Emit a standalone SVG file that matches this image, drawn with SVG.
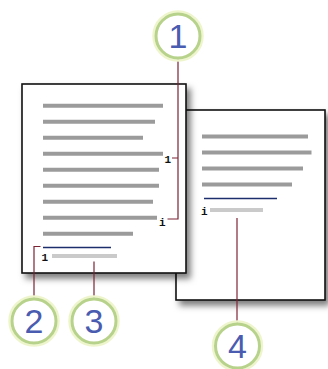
<svg xmlns="http://www.w3.org/2000/svg" width="328" height="369" viewBox="0 0 328 369">
<defs>
<filter id="sh" x="-10%" y="-10%" width="130%" height="130%">
<feDropShadow dx="4" dy="5" stdDeviation="3" flood-color="#000" flood-opacity="0.5"/>
</filter>
<style>
.page{fill:#fff;stroke:#111;stroke-width:1.6}
.bar{stroke:#9b9b9b;stroke-width:4}
.lbar{stroke:#cacaca;stroke-width:4}
.blue{stroke:#1c2f6c;stroke-width:1.3}
.mark{font-family:"Liberation Mono",monospace;font-weight:bold;font-size:11px;fill:#111}
.conn{fill:none;stroke:#7c2434;stroke-width:1.2}
.glow{fill:none;stroke:#eef5cc;stroke-width:2.5}
.ring{fill:#fff;stroke:#b7d28b;stroke-width:3}
.num{font-family:"Liberation Sans",Arial,sans-serif;font-size:34px;fill:#4a5cb0;text-anchor:middle}
</style>
</defs>
<g id="page2">
<rect class="page" x="176" y="110" width="149" height="190" filter="url(#sh)"/>
<line class="bar" x1="202" y1="136.5" x2="308" y2="136.5"/>
<line class="bar" x1="202" y1="152.5" x2="311.5" y2="152.5"/>
<line class="bar" x1="202" y1="168.5" x2="303" y2="168.5"/>
<line class="bar" x1="202" y1="184.5" x2="292" y2="184.5"/>
<line class="blue" x1="204" y1="198.5" x2="277" y2="198.5"/>
<text class="mark" x="201" y="215">i</text>
<line class="lbar" x1="210" y1="210" x2="263" y2="210"/>
</g>
<g id="page1">
<rect class="page" x="22" y="84" width="164" height="189" filter="url(#sh)"/>
<line class="bar" x1="43" y1="105.7" x2="163" y2="105.7"/>
<line class="bar" x1="43" y1="121.7" x2="155" y2="121.7"/>
<line class="bar" x1="43" y1="137.7" x2="143" y2="137.7"/>
<line class="bar" x1="43" y1="153.7" x2="163" y2="153.7"/>
<line class="bar" x1="43" y1="169.7" x2="159" y2="169.7"/>
<line class="bar" x1="43" y1="185.7" x2="159" y2="185.7"/>
<line class="bar" x1="43" y1="201.7" x2="153" y2="201.7"/>
<line class="bar" x1="43" y1="217.7" x2="157" y2="217.7"/>
<line class="bar" x1="43" y1="233.7" x2="133" y2="233.7"/>
<text class="mark" x="164.5" y="162.5">1</text>
<text class="mark" x="159" y="225.5">i</text>
<line class="blue" x1="43" y1="247.5" x2="111" y2="247.5"/>
<text class="mark" x="41.5" y="261">1</text>
<line class="lbar" x1="52" y1="256" x2="117" y2="256"/>
</g>
<g id="connectors">
<path class="conn" d="M178,59.5 V219 H167.5 M178,158 H172"/>
<path class="conn" d="M40.5,246.5 H34 V297.5"/>
<path class="conn" d="M94,261.5 V297.5"/>
<path class="conn" d="M237,218 V322.5"/>
</g>
<g id="callout1">
<circle class="glow" cx="178" cy="36" r="24.5"/>
<circle class="ring" cx="178" cy="36" r="22"/>
<text class="num" x="178" y="48">1</text>
</g>
<g id="callout2">
<circle class="glow" cx="34" cy="321" r="24.5"/>
<circle class="ring" cx="34" cy="321" r="22"/>
<text class="num" x="34" y="333">2</text>
</g>
<g id="callout3">
<circle class="glow" cx="94" cy="321" r="24.5"/>
<circle class="ring" cx="94" cy="321" r="22"/>
<text class="num" x="94" y="333">3</text>
</g>
<g id="callout4">
<circle class="glow" cx="237.5" cy="346" r="24.5"/>
<circle class="ring" cx="237.5" cy="346" r="22"/>
<text class="num" x="237.5" y="358">4</text>
</g>
</svg>
